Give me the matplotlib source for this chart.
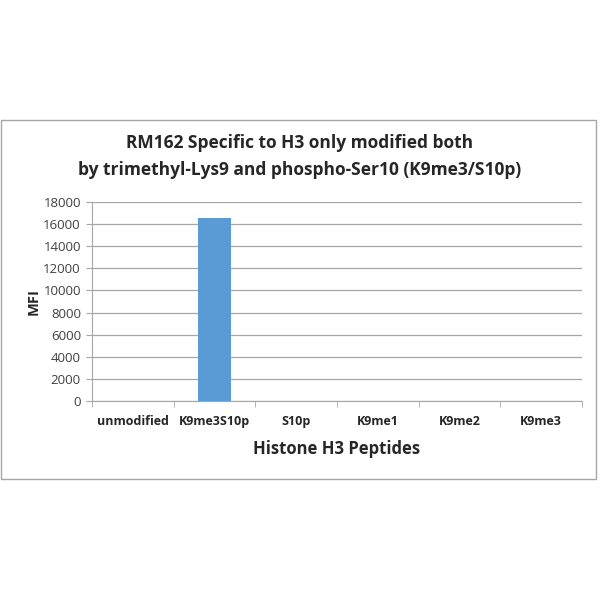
import matplotlib.pyplot as plt
import numpy as np
from matplotlib.patches import Rectangle

peptides = ['unmodified', 'K9me3S10p', 'S10p', 'K9me1', 'K9me2', 'K9me3']
mfi = [30, 16530, 25, 20, 20, 25]

plt.rcParams['font.family'] = ['Open Sans', 'DejaVu Sans']

fig = plt.figure(figsize=(6, 6), dpi=100)
fig.patch.set_facecolor('white')

# outer chart frame
fig.patches.append(Rectangle((1/600, 1-479/600), 595/600, 359/600,
                             transform=fig.transFigure, fill=False,
                             edgecolor='#a6a6a6', linewidth=1.0))

ax = fig.add_axes([92/600, 1-401/600, 490/600, 199/600])
x = np.arange(len(peptides))
ax.bar(x, mfi, width=0.4, color='#5b9bd5', zorder=3)

ax.set_xlim(-0.5, len(peptides)-0.5)
ax.set_ylim(0, 18000)
ax.set_yticks(np.arange(0, 18001, 2000))
ax.yaxis.grid(True, color='#a6a6a6', linewidth=0.9, zorder=0)

ax.set_xticks(x)
ax.set_xticklabels(peptides, fontsize=9, fontweight='bold', color='#262626')
ax.set_xticks(np.arange(-0.5, len(peptides)), minor=True)
ax.tick_params(axis='x', which='major', length=0, pad=10)
ax.tick_params(axis='x', which='minor', length=4, color='#a6a6a6', direction='out')
ax.tick_params(axis='y', length=4, color='#a6a6a6', labelsize=9.5, labelcolor='#404040', pad=4)

for s in ['top', 'right']:
    ax.spines[s].set_visible(False)
for s in ['left', 'bottom']:
    ax.spines[s].set_color('#a6a6a6')

ax.set_ylabel('MFI', fontsize=10.5, fontweight='bold', color='#262626', labelpad=2)
ax.set_xlabel('Histone H3 Peptides', fontsize=12, fontweight='bold', color='#262626', labelpad=9)

fig.text(0.5, 1-143/600, 'RM162 Specific to H3 only modified both', ha='center', va='center',
         fontsize=12.5, fontweight='bold', color='#262626')
fig.text(0.5, 1-170/600, 'by trimethyl-Lys9 and phospho-Ser10 (K9me3/S10p)', ha='center', va='center',
         fontsize=12.5, fontweight='bold', color='#262626')

fig.savefig('out.png', dpi=100)
